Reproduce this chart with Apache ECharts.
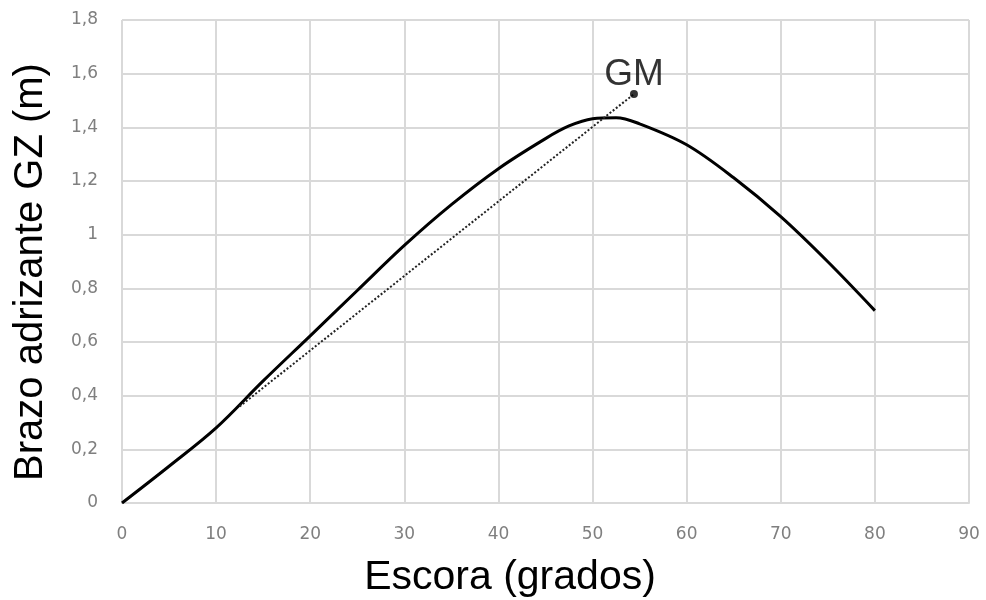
<!DOCTYPE html>
<html>
<head>
<meta charset="utf-8">
<script src="https://cdn.jsdelivr.net/npm/echarts@6/dist/echarts.min.js"></script>
<style>
  html, body { margin: 0; padding: 0; background: #ffffff; }
  #chart { width: 986px; height: 600px; }
</style>
</head>
<body>
<div id="chart"></div>
<script>
// Righting arm (GZ) curve versus heel angle
const heelDeg = [0, 5, 10, 15, 20, 25, 30, 35, 40, 45, 47.5, 50, 52.5, 55, 60, 65, 70, 75, 80];
const gzValues = [0, 0.137, 0.28, 0.455, 0.623, 0.792, 0.96, 1.112, 1.246, 1.358, 1.405, 1.432, 1.436, 1.413, 1.335, 1.212, 1.067, 0.899, 0.717];

// GM tangent line (dotted) and its end point
const gmLineX = [12.5, 54.4];
const gmLineY = [0.36, 1.524];
const gmLabel = 'GM';

const xTitle = 'Escora (grados)';
const yTitle = 'Brazo adrizante GZ (m)';

const chart = echarts.init(document.getElementById('chart'), null, { renderer: 'canvas' });

const tickFont = { color: '#7f7f7f', fontSize: 17, fontFamily: '"DejaVu Sans", sans-serif' };
const gridColor = '#d9d9d9';

chart.setOption({
  animation: false,
  backgroundColor: '#ffffff',
  grid: { left: 122, right: 17, top: 20, bottom: 97, containLabel: false },
  xAxis: {
    type: 'value',
    min: 0, max: 90, interval: 10,
    axisLine: { show: true, lineStyle: { color: gridColor, width: 2 } },
    axisTick: { show: false },
    axisLabel: Object.assign({ margin: 23 }, tickFont),
    splitLine: { show: true, lineStyle: { color: gridColor, width: 2 } }
  },
  yAxis: {
    type: 'value',
    min: 0, max: 1.8, interval: 0.2,
    axisLine: { show: false },
    axisTick: { show: false },
    axisLabel: Object.assign({
      margin: 24,
      formatter: v => String(Math.round(v * 10) / 10).replace('.', ',')
    }, tickFont),
    splitLine: { show: true, lineStyle: { color: gridColor, width: 2 } }
  },
  series: [
    {
      type: 'line',
      data: heelDeg.map((x, i) => [x, gzValues[i]]),
      smooth: 0.35,
      showSymbol: false,
      lineStyle: { color: '#000000', width: 3 },
      z: 3
    },
    {
      type: 'line',
      data: gmLineX.map((x, i) => [x, gmLineY[i]]),
      showSymbol: false,
      lineStyle: { color: '#222222', width: 2, type: [2, 2] },
      z: 4
    },
    {
      type: 'scatter',
      data: [[gmLineX[1], gmLineY[1]]],
      symbol: 'circle',
      symbolSize: 8,
      itemStyle: { color: '#000000' },
      label: {
        show: true,
        position: 'top',
        distance: -3,
        formatter: gmLabel,
        color: '#000000',
        fontSize: 37,
        fontFamily: '"Liberation Sans", Arial, sans-serif'
      },
      z: 5
    }
  ],
  graphic: [
    {
      type: 'text',
      x: 510,
      y: 578,
      style: {
        text: xTitle,
        fill: '#000000',
        font: '41px "Liberation Sans", Arial, sans-serif',
        align: 'center',
        verticalAlign: 'middle'
      }
    },
    {
      type: 'text',
      x: 31,
      y: 272,
      rotation: Math.PI / 2,
      style: {
        text: yTitle,
        fill: '#000000',
        font: '40px "Liberation Sans", Arial, sans-serif',
        align: 'center',
        verticalAlign: 'middle'
      }
    }
  ]
});
</script>
</body>
</html>
